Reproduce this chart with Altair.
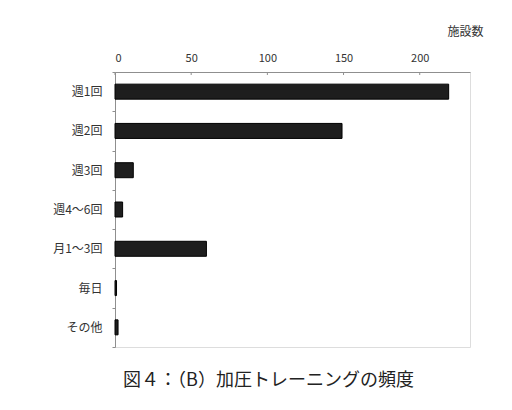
import altair as alt
import pandas as pd

categories = ["週1回", "週2回", "週3回", "週4～6回", "月1～3回", "毎日", "その他"]
counts = [219, 149, 12, 5, 60, 1, 2]
tick_values = [0, 50, 100, 150, 200]

df = pd.DataFrame({"cat": categories, "n": counts})
ticks_df = pd.DataFrame({"t": tick_values})

FONT = "Noto Sans CJK JP"
AXIS_GRAY = "#8f8f8f"

xscale = alt.Scale(domain=[0, 233], nice=False, zero=True)

bars = alt.Chart(df).mark_bar(size=15, color="#1e1e1e", stroke="#000000", strokeWidth=1).encode(
    x=alt.X("n:Q", scale=xscale,
            axis=alt.Axis(orient="top", values=tick_values, ticks=False, grid=False,
                          domainColor=AXIS_GRAY, labelFont=FONT, labelFontSize=11,
                          labelColor="#333333", labelPadding=9,
                          title="施設数", titleFont=FONT, titleFontSize=12,
                          titleFontWeight="normal", titleColor="#333333",
                          titleAnchor="end", titleAlign="right", titleBaseline="middle",
                          titleX=368, titleY=-41, titleAngle=0)),
    y=alt.Y("cat:N", sort=categories, scale=alt.Scale(paddingInner=0, paddingOuter=0),
            axis=alt.Axis(title=None, tickBand="extent", tickSize=3, tickColor=AXIS_GRAY,
                          domainColor=AXIS_GRAY, labelFont=FONT, labelFontSize=12,
                          labelColor="#333333", labelPadding=10)),
)

xticks = alt.Chart(ticks_df).mark_rule(color=AXIS_GRAY, strokeWidth=1).encode(
    x=alt.X("t:Q", scale=xscale),
    y=alt.value(0),
    y2=alt.value(3),
)

chart = alt.layer(bars, xticks).properties(
    width=355,
    height=275,
    autosize=alt.AutoSizeParams(type="none"),
    padding={"left": 107, "top": 64, "right": 34, "bottom": 55},
    title=alt.TitleParams(
        text="図４：（B）加圧トレーニングの頻度",
        orient="bottom", anchor="middle", offset=24, dx=-24,
        font=FONT, fontSize=18, fontWeight="normal", color="#222222",
    ),
).configure_view(stroke=None).configure(background="white")

chart.save("out.html", embed_options={"renderer": "svg", "actions": False})
